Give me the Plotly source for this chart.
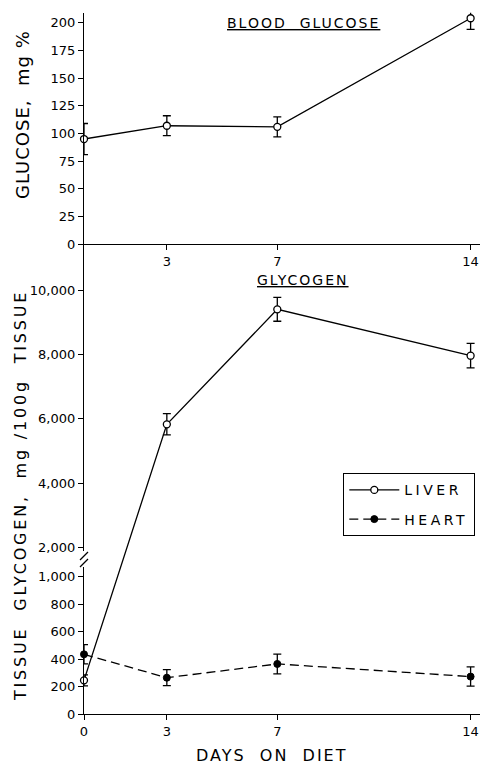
import plotly.graph_objects as go

# ---------------- data ----------------
days = [0, 3, 7, 14]
glucose = [95, 107, 106, 204]
glucose_err = [14, 9, 9, 10]
liver = [245, 5830, 9400, 7960]
liver_err = [40, 330, 370, 380]
heart = [434, 264, 364, 272]
heart_err = [70, 58, 72, 70]

glucose_ticks = [0, 25, 50, 75, 100, 125, 150, 175, 200]
glycogen_ticks = [0, 200, 400, 600, 800, 1000, 2000, 4000, 6000, 8000, 10000]
glycogen_ticktext = ["0", "200", "400", "600", "800", "1,000",
                     "2,000", "4,000", "6,000", "8,000", "10,000"]
top_xticks = [3, 7, 14]
bottom_xticks = [0, 3, 7, 14]

# ---------------- broken-axis scale for glycogen ----------------
LOW_MAX = 1000
HIGH_MIN = 2000
HIGH_START = 1209.5
HIGH_SLOPE = 0.23427


def brk(v):
    return v if v <= LOW_MAX else HIGH_START + (v - HIGH_MIN) * HIGH_SLOPE


def brk_err(vals, errs):
    plus = [brk(v + e) - brk(v) for v, e in zip(vals, errs)]
    minus = [brk(v) - brk(v - e) for v, e in zip(vals, errs)]
    return plus, minus


FONT = "DejaVu Sans"
OFF = 8                 # page body margin of the browser
W, H = 488 - OFF, 768 - OFF
L = 84 - OFF


def py(p):
    return 1 - (p - OFF) / H


def px(p):
    return (p - OFF - L) / (W - L)


def spaced(text, ls):
    return "<span style='letter-spacing:%spx'>%s</span>" % (ls, text)


fig = go.Figure()

# glucose
fig.add_trace(go.Scatter(
    x=days, y=glucose, mode="lines+markers", xaxis="x", yaxis="y",
    line=dict(color="black", width=1.3),
    marker=dict(symbol="circle", size=7, color="white",
                line=dict(color="black", width=1.3)),
    error_y=dict(type="data", array=glucose_err, color="black",
                 thickness=1.3, width=4),
    cliponaxis=False, showlegend=False))

lp, lm = brk_err(liver, liver_err)
fig.add_trace(go.Scatter(
    x=days, y=[brk(v) for v in liver], mode="lines+markers",
    xaxis="x2", yaxis="y2", name=spaced("LIVER", 3.5), legendgroup="a",
    line=dict(color="black", width=1.3),
    marker=dict(symbol="circle", size=7, color="white",
                line=dict(color="black", width=1.3)),
    error_y=dict(type="data", symmetric=False, array=lp, arrayminus=lm,
                 color="black", thickness=1.3, width=4),
    cliponaxis=False))

hp, hm = brk_err(heart, heart_err)
fig.add_trace(go.Scatter(
    x=days, y=[brk(v) for v in heart], mode="lines+markers",
    xaxis="x2", yaxis="y2", name=spaced("HEART", 3.5), legendgroup="b",
    line=dict(color="black", width=1.3, dash="9px,5px"),
    marker=dict(symbol="circle", size=7, color="black",
                line=dict(color="black", width=1)),
    error_y=dict(type="data", symmetric=False, array=hp, arrayminus=hm,
                 color="black", thickness=1.3, width=4),
    cliponaxis=False))

axis_common = dict(showline=True, linecolor="black", linewidth=1.3,
                   ticks="outside", ticklen=5, tickwidth=1.3,
                   tickcolor="black", showgrid=False, zeroline=False,
                   tickfont=dict(family=FONT, size=13, color="black"))

xr = [0, 14.63]
fig.update_layout(
    width=W, height=H,
    margin=dict(l=L, r=0, t=0, b=0, autoexpand=False),
    paper_bgcolor="white", plot_bgcolor="rgba(0,0,0,0)",
    font=dict(family=FONT, color="black"),
    xaxis=dict(domain=[0, 1], range=xr, anchor="y", tickvals=top_xticks,
               **axis_common),
    yaxis=dict(domain=[py(244.3), py(12.7)], range=[0, 209], anchor="x",
               tickvals=glucose_ticks, **axis_common),
    xaxis2=dict(domain=[0, 1], range=xr, anchor="y2", tickvals=bottom_xticks,
                **axis_common),
    yaxis2=dict(domain=[py(714), py(244.3)], range=[0, 3416], anchor="x2",
                tickvals=[brk(v) for v in glycogen_ticks],
                ticktext=glycogen_ticktext, **axis_common),
    legend=dict(x=px(343), y=py(473), xanchor="left", yanchor="top",
                bordercolor="black", borderwidth=1.3, bgcolor="white",
                font=dict(family=FONT, size=14, color="black"),
                itemwidth=50, tracegroupgap=8),
)

# axis break marks
fig.add_shape(type="rect", xref="paper", yref="paper",
              x0=px(81), x1=px(87), y0=py(567), y1=py(551),
              fillcolor="white", line=dict(width=0), layer="above")
for dy in (0, 7):
    fig.add_shape(type="line", xref="paper", yref="paper",
                  x0=px(80), y0=py(560 + dy), x1=px(88), y1=py(552 + dy),
                  line=dict(color="black", width=1.3), layer="above")

ann = dict(xref="paper", yref="paper", showarrow=False,
           xanchor="center", yanchor="middle")
fig.add_annotation(text="<u>" + spaced("BLOOD  GLUCOSE", 2) + "</u>",
                   x=px(303), y=py(23), font=dict(family=FONT, size=14), **ann)
fig.add_annotation(text="<u>" + spaced("GLYCOGEN", 2) + "</u>",
                   x=px(303), y=py(280), font=dict(family=FONT, size=14), **ann)
fig.add_annotation(text=spaced("GLUCOSE,  mg %", 1), x=px(22), y=py(115),
                   textangle=-90, font=dict(family=FONT, size=18), **ann)
fig.add_annotation(text=spaced("TISSUE  GLYCOGEN,  mg /100g  TISSUE", 2.8),
                   x=px(20), y=py(496), textangle=-90,
                   font=dict(family=FONT, size=16), **ann)
fig.add_annotation(text=spaced("DAYS  ON  DIET", 2), x=px(272), y=py(755),
                   font=dict(family=FONT, size=16), **ann)

fig.write_html("out.html")
